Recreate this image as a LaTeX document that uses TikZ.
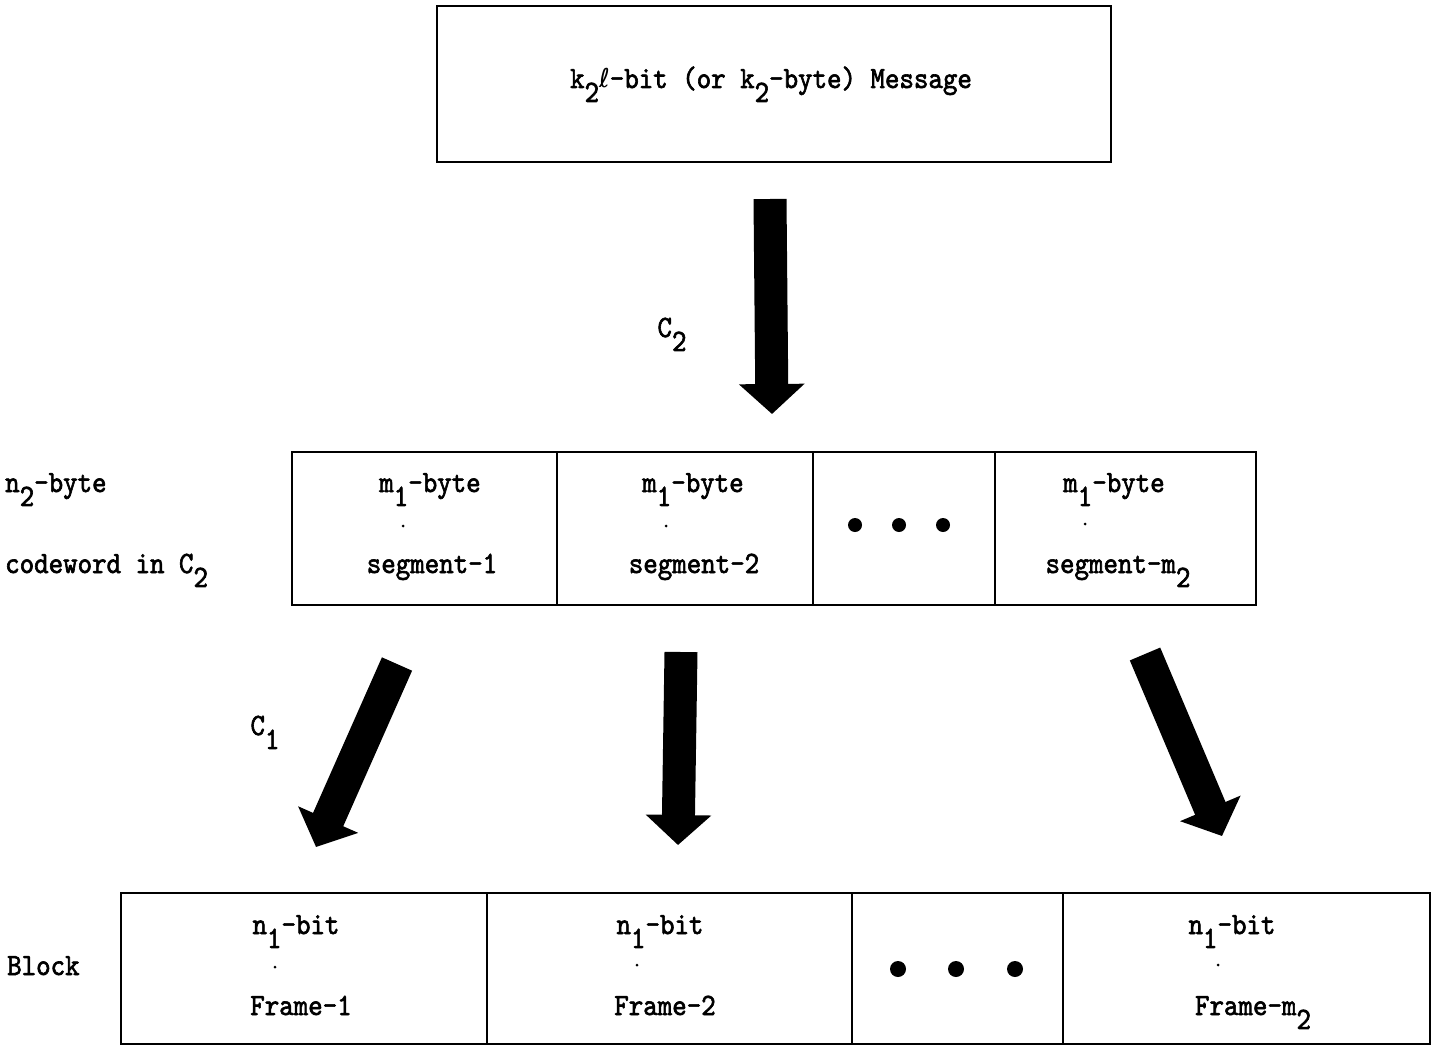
\documentclass[tikz,border=0pt]{standalone}
\usepackage{fontspec}
\newfontfamily\tw{lmmono10-regular.otf}[FakeStretch=0.89,FakeBold=2]
\newfontfamily\ellfont{DejaVu Sans}
\usetikzlibrary{arrows.meta}
\newcommand\lowr[1]{\raisebox{-0.45em}{#1}}
\begin{document}
\begin{tikzpicture}[x=1pt,y=-1pt,
  box/.style={draw,line width=2.5pt,inner sep=0pt},
  txt/.style={font=\tw\fontsize{31}{36}\selectfont,inner sep=0pt},
  fat/.style={line width=33pt,-{Triangle[width=64pt,length=30pt]}},
  bigdot/.style={fill,circle,inner sep=0pt,minimum size=14pt},
  tinydot/.style={fill,circle,inner sep=0pt,minimum size=3pt}]
\useasboundingbox (0,0) rectangle (1439,1046);

% top message box
\node[box,minimum width=674pt,minimum height=156pt] (msg) at (774,84) {};
\node[txt,anchor=base] (msgt) at (771,88) {k\lowr{2}{\ellfont\fontsize{26}{30}\selectfont ℓ}-bit (or k\lowr{2}-byte) Message};

% arrow C2
\coordinate (a0s) at (770,199);
\coordinate (a0e) at (772,414);
\draw[fat] (a0s) -- (a0e);
\node[txt,anchor=base] (c2) at (672,337) {C\lowr{2}};

% middle row
\node[box,minimum width=265pt,minimum height=153pt] (s1) at (424.5,528.5) {};
\node[box,minimum width=256pt,minimum height=153pt] (s2) at (685,528.5) {};
\node[box,minimum width=182pt,minimum height=153pt] (s3) at (904,528.5) {};
\node[box,minimum width=261pt,minimum height=153pt] (s4) at (1125.5,528.5) {};

\node[txt,anchor=base] (s1a) at (430,492) {m\lowr{1}-byte};
\node[txt,anchor=base] (s1b) at (432,573) {segment-1};
\node[txt,anchor=base] (s2a) at (693,492) {m\lowr{1}-byte};
\node[txt,anchor=base] (s2b) at (694,573) {segment-2};
\node[txt,anchor=base] (s4a) at (1114,492) {m\lowr{1}-byte};
\node[txt,anchor=base] (s4b) at (1118,573) {segment-m\lowr{2}};
\node[tinydot] (d1) at (403,526) {};
\node[tinydot] (d2) at (666,526) {};
\node[tinydot] (d4) at (1085,524) {};
\node[bigdot] (e1) at (855,525) {};
\node[bigdot] (e2) at (899,525) {};
\node[bigdot] (e3) at (943,525) {};

\node[txt,anchor=base west] (lab1) at (5,492) {n\lowr{2}-byte};
\node[txt,anchor=base west] (lab2) at (5,573) {codeword in C\lowr{2}};

% lower arrows
\coordinate (a1s) at (397,664);
\coordinate (a1e) at (316,847);
\draw[fat] (a1s) -- (a1e);
\coordinate (a2s) at (681,652);
\coordinate (a2e) at (678,845);
\draw[fat] (a2s) -- (a2e);
\coordinate (a3s) at (1145,654);
\coordinate (a3e) at (1222,836);
\draw[fat] (a3s) -- (a3e);
\node[txt,anchor=base] (c1) at (265,735) {C\lowr{1}};

% bottom row
\node[box,minimum width=366pt,minimum height=151pt] (f1) at (304,968.5) {};
\node[box,minimum width=365pt,minimum height=151pt] (f2) at (669.5,968.5) {};
\node[box,minimum width=211pt,minimum height=151pt] (f3) at (957.5,968.5) {};
\node[box,minimum width=367pt,minimum height=151pt] (f4) at (1246.5,968.5) {};

\node[txt,anchor=base] (f1a) at (296,934) {n\lowr{1}-bit};
\node[txt,anchor=base] (f1b) at (301,1015) {Frame-1};
\node[txt,anchor=base] (f2a) at (660,934) {n\lowr{1}-bit};
\node[txt,anchor=base] (f2b) at (665,1015) {Frame-2};
\node[txt,anchor=base] (f4a) at (1232,934) {n\lowr{1}-bit};
\node[txt,anchor=base] (f4b) at (1253,1015) {Frame-m\lowr{2}};
\node[tinydot] (g1) at (275,967) {};
\node[tinydot] (g2) at (637,965) {};
\node[tinydot] (g4) at (1218,965) {};
\node[bigdot,minimum size=16pt] (h1) at (898,969) {};
\node[bigdot,minimum size=16pt] (h2) at (956,969) {};
\node[bigdot,minimum size=16pt] (h3) at (1015,969) {};

\node[txt,anchor=base west] (lab3) at (7,975) {Block};
\end{tikzpicture}
\end{document}
